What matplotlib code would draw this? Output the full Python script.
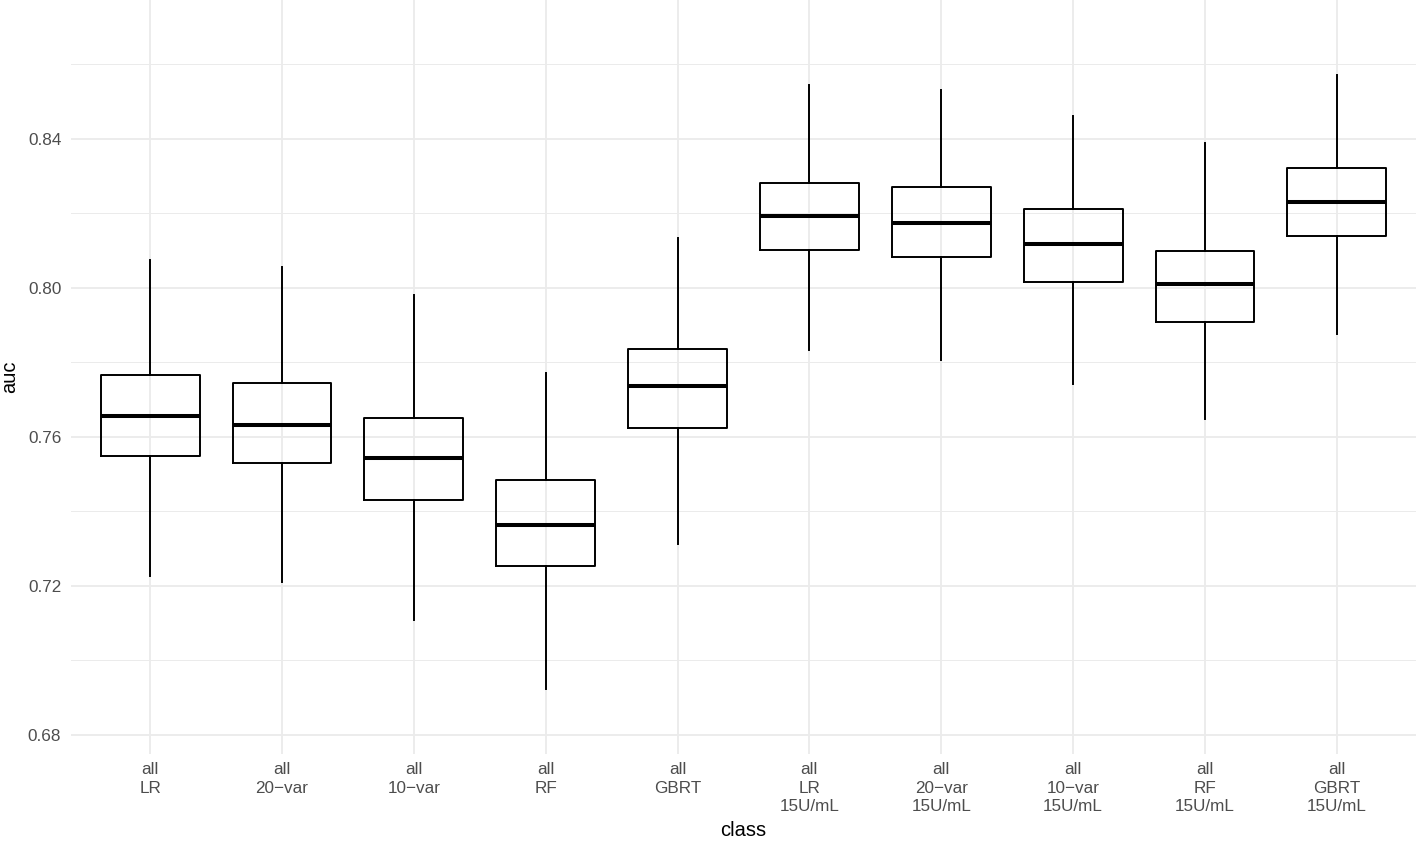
import matplotlib
matplotlib.use("Agg")
import matplotlib.pyplot as plt
from matplotlib.ticker import FixedLocator

plt.rcParams['font.family'] = ['Liberation Sans', 'DejaVu Sans']

categories = ["all\nLR", "all\n20\u2212var", "all\n10\u2212var", "all\nRF", "all\nGBRT",
              "all\nLR\n15U/mL", "all\n20\u2212var\n15U/mL", "all\n10\u2212var\n15U/mL",
              "all\nRF\n15U/mL", "all\nGBRT\n15U/mL"]
whisker_low = [0.7227, 0.7211, 0.7109, 0.6923, 0.7313, 0.7834, 0.7807, 0.7742, 0.7648, 0.7877]
q1 =          [0.7549, 0.7530, 0.7431, 0.7254, 0.7624, 0.8102, 0.8083, 0.8016, 0.7909, 0.8140]
median =      [0.7656, 0.7632, 0.7544, 0.7364, 0.7737, 0.8193, 0.8174, 0.8118, 0.8011, 0.8231]
q3 =          [0.7766, 0.7745, 0.7651, 0.7485, 0.7836, 0.8282, 0.8271, 0.8212, 0.8099, 0.8322]
whisker_high = [0.8075, 0.8056, 0.7981, 0.7772, 0.8134, 0.8545, 0.8532, 0.8462, 0.8389, 0.8572]
y_major = [0.68, 0.72, 0.76, 0.80, 0.84]
y_minor = [0.70, 0.74, 0.78, 0.82, 0.86]
y_labels = ["0.68", "0.72", "0.76", "0.80", "0.84"]

stats = []
for i in range(len(categories)):
    stats.append(dict(whislo=whisker_low[i], q1=q1[i], med=median[i], q3=q3[i],
                      whishi=whisker_high[i], fliers=[]))

fig = plt.figure(figsize=(14.17, 8.41), dpi=100)
ax = fig.add_axes([71/1417, 1 - 754/841, (1416 - 71)/1417, 754/841])

positions = list(range(len(categories)))
ax.bxp(stats, positions=positions, widths=0.75, showcaps=False, showfliers=False,
       boxprops=dict(color='black', linewidth=1.4),
       whiskerprops=dict(color='black', linewidth=1.4),
       medianprops=dict(color='black', linewidth=2.9, solid_capstyle='butt'),
       zorder=3)

ax.set_xlim(-0.6, len(categories) - 0.4)
ax.set_ylim(0.6749, 0.8773)
ax.yaxis.set_major_locator(FixedLocator(y_major))
ax.yaxis.set_minor_locator(FixedLocator(y_minor))
ax.set_yticklabels(y_labels)
ax.set_xticks(positions)
ax.set_xticklabels(categories, linespacing=1.27)

ax.grid(True, which='major', color='#EBEBEB', linewidth=1.3, zorder=0)
ax.grid(True, which='minor', axis='y', color='#EBEBEB', linewidth=0.7, zorder=0)
ax.set_axisbelow(True)
for s in ax.spines.values():
    s.set_visible(False)
ax.tick_params(axis='both', which='both', length=0, labelsize=12.3, labelcolor='#4D4D4D')
ax.tick_params(axis='x', pad=6)
ax.tick_params(axis='y', pad=7)

ax.set_xlabel("class", fontsize=14.5, color='black', labelpad=5)
ax.set_ylabel("auc", fontsize=14.5, color='black', labelpad=6)

fig.savefig("out.png", dpi=100)
